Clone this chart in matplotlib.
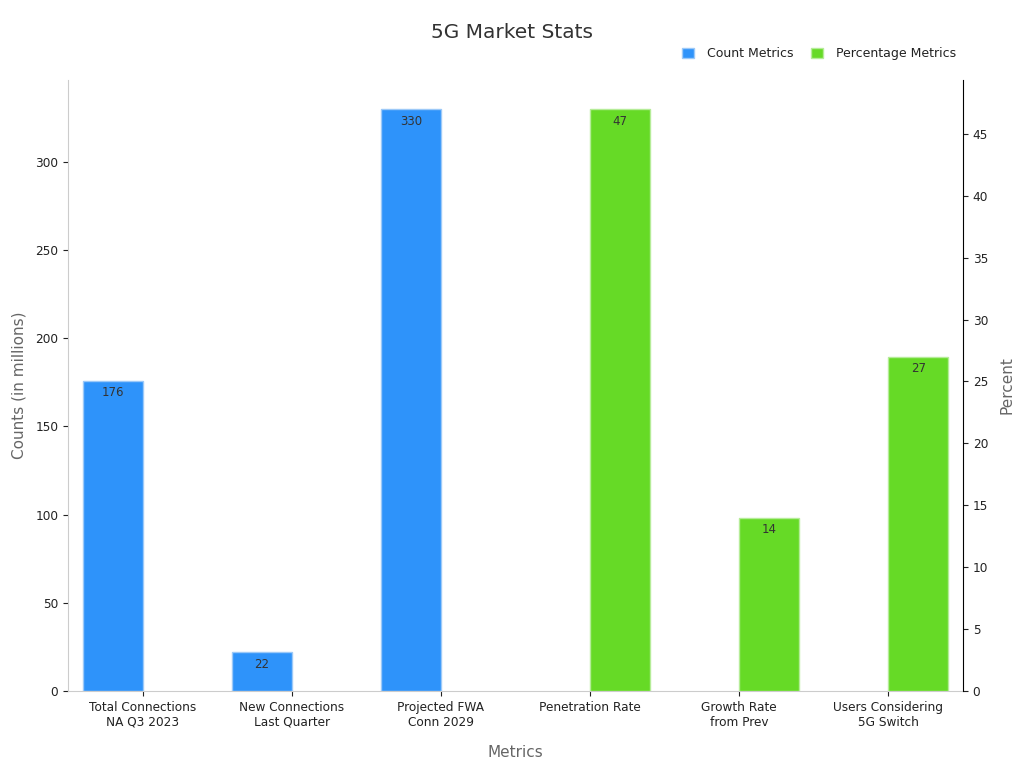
import matplotlib.pyplot as plt
import numpy as np

categories = ["Total Connections\nNA Q3 2023", "New Connections\nLast Quarter",
              "Projected FWA\nConn 2029", "Penetration Rate",
              "Growth Rate\nfrom Prev", "Users Considering\n5G Switch"]
count_vals = [176, 22, 330, 0, 0, 0]
pct_vals = [0, 0, 0, 47, 14, 27]

blue = "#2E93FA"
green = "#66DA26"

fig = plt.figure(figsize=(10.24, 7.68), dpi=100)
ax = fig.add_axes([0.0664, 0.1003, 0.874, 0.7955])
ax2 = ax.twinx()

x = np.arange(len(categories))
w = 0.4
# zero entries are not drawn
cnt = np.array(count_vals, dtype=float)
cnt[cnt == 0] = np.nan
pct = np.array(pct_vals, dtype=float)
pct[pct == 0] = np.nan
b1 = ax.bar(x, cnt, width=-w, align="edge", color=blue, edgecolor="#9CC9F8", linewidth=1, label="Count Metrics")
b2 = ax2.bar(x, pct, width=w, align="edge", color=green, edgecolor="#B5EC98", linewidth=1, label="Percentage Metrics")

# value labels just inside the top of each bar
for rect, v in zip(b1, count_vals):
    if v:
        ax.annotate(str(v), (rect.get_x() + rect.get_width() / 2, v), xytext=(0, -4),
                    textcoords="offset points", ha="center", va="top", fontsize=8.5, color="#333333")
for rect, v in zip(b2, pct_vals):
    if v:
        ax2.annotate(str(v), (rect.get_x() + rect.get_width() / 2, v), xytext=(0, -4),
                     textcoords="offset points", ha="center", va="top", fontsize=8.5, color="#333333")

ax.set_xlim(-0.5, 5.5)
ax.set_ylim(0, 346.5)
ax2.set_ylim(0, 49.35)
ax2.set_yticks(np.arange(0, 50, 5))
ax.set_xticks(x)
ax.set_xticklabels(categories, fontsize=8.7, color="#222222")
ax.tick_params(axis="y", labelsize=8.7, colors="#222222")
ax2.tick_params(axis="y", labelsize=8.7, colors="#222222")
ax.tick_params(axis="x", colors="#222222")

for s in ["top"]:
    ax.spines[s].set_visible(False)
    ax2.spines[s].set_visible(False)
ax.spines["left"].set_color("#cccccc")
ax.spines["bottom"].set_color("#cccccc")
ax2.spines["left"].set_visible(False)
ax2.spines["bottom"].set_visible(False)
ax.spines["right"].set_visible(False)
ax2.spines["right"].set_color("#000000")

ax.set_xlabel("Metrics", fontsize=11, color="#666666", labelpad=12)
ax.set_ylabel("Counts (in millions)", fontsize=11, color="#666666", labelpad=6)
ax2.set_ylabel("Percent", fontsize=11, color="#666666", labelpad=8)

fig.suptitle("5G Market Stats", fontsize=14.5, color="#333333", y=0.97)

h1, l1 = ax.get_legend_handles_labels()
h2, l2 = ax2.get_legend_handles_labels()
fig.legend(h1 + h2, l1 + l2, loc="upper right", bbox_to_anchor=(0.945, 0.953), ncol=2,
           frameon=False, fontsize=9, handlelength=0.9, handleheight=0.9, handletextpad=1.1,
           columnspacing=1.4, labelcolor="#222222")

plt.savefig("out.png")
plt.close()
